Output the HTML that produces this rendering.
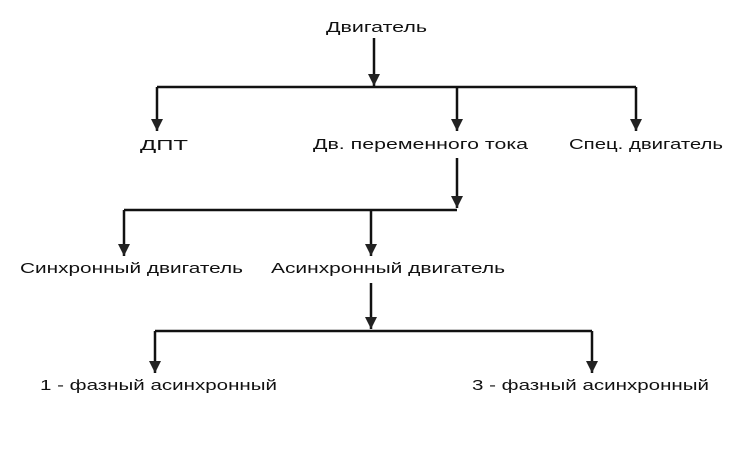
<!DOCTYPE html>
<html><head><meta charset="utf-8"><style>
html,body{margin:0;padding:0;background:#fff;}
svg{display:block;}
text{font-family:"Liberation Sans","DejaVu Sans",sans-serif;font-size:15px;fill:#111;}
</style></head><body>
<svg width="750" height="450" viewBox="0 0 750 450">
<defs>
<marker id="a" viewBox="0 0 12 12" refX="12" refY="6" markerWidth="12" markerHeight="12" markerUnits="userSpaceOnUse" orient="auto">
<path d="M0,0 L12,6 L0,12 Z" fill="#222"/>
</marker>
</defs>
<g stroke="#111" stroke-width="2.5" fill="none">
<line x1="374" y1="38" x2="374" y2="86" marker-end="url(#a)"/>
<line x1="157" y1="87" x2="636" y2="87"/>
<line x1="157" y1="87" x2="157" y2="131" marker-end="url(#a)"/>
<line x1="457" y1="87" x2="457" y2="131" marker-end="url(#a)"/>
<line x1="636" y1="87" x2="636" y2="131" marker-end="url(#a)"/>
<line x1="457" y1="158" x2="457" y2="208" marker-end="url(#a)"/>
<line x1="124" y1="210" x2="457" y2="210"/>
<line x1="124" y1="210" x2="124" y2="256" marker-end="url(#a)"/>
<line x1="371" y1="210" x2="371" y2="256" marker-end="url(#a)"/>
<line x1="371" y1="283" x2="371" y2="329" marker-end="url(#a)"/>
<line x1="155" y1="331" x2="592" y2="331"/>
<line x1="155" y1="331" x2="155" y2="373" marker-end="url(#a)"/>
<line x1="592" y1="331" x2="592" y2="373" marker-end="url(#a)"/>
</g>
<text x="326" y="32" textLength="101" lengthAdjust="spacingAndGlyphs">Двигатель</text>
<text x="140" y="150" textLength="48" lengthAdjust="spacingAndGlyphs">ДПТ</text>
<text x="313" y="149" textLength="215" lengthAdjust="spacingAndGlyphs">Дв. переменного тока</text>
<text x="569" y="149" textLength="154" lengthAdjust="spacingAndGlyphs">Спец. двигатель</text>
<text x="20" y="273" textLength="223" lengthAdjust="spacingAndGlyphs">Синхронный двигатель</text>
<text x="271" y="273" textLength="234" lengthAdjust="spacingAndGlyphs">Асинхронный двигатель</text>
<text x="40" y="390" textLength="237" lengthAdjust="spacingAndGlyphs">1 - фазный асинхронный</text>
<text x="472" y="390" textLength="237" lengthAdjust="spacingAndGlyphs">3 - фазный асинхронный</text>
</svg>
</body></html>
